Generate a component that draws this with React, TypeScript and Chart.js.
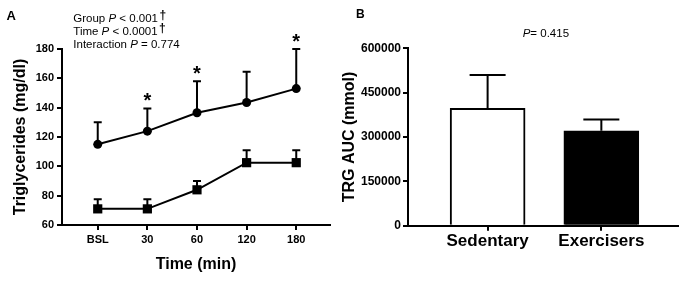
import React, { useEffect, useRef } from "react";
import { Chart, registerables } from "chart.js";

Chart.register(...registerables);

// ---------- data ----------
const timeLabels = ["BSL", "30", "60", "120", "180"];
const sedentaryMean = [115, 124, 136.5, 143.5, 153];
const sedentaryUpper = [130, 139.5, 158, 164.5, 180];
const exerciserMean = [71, 71, 84, 102.5, 102.5];
const exerciserUpper = [77.5, 77.5, 90, 111, 111];
const significantTimes = [false, true, true, false, true];

const statNames = ["Group", "Time", "Interaction"];
const statOps = ["<", "<", "="];
const statValues = ["0.001", "0.0001", "0.774"];
const statDaggers = [true, true, false];

const aucGroups = ["Sedentary", "Exercisers"];
const aucMean = [397000, 321000];
const aucUpper = [510000, 359000];
const aucStatOp = "=";
const aucStatValue = "0.415";

const yTicksA = [60, 180, 20];
const yTicksB = [0, 600000, 150000];

// ---------- style ----------
const FONT = '"Liberation Sans", Arial, Helvetica, sans-serif';
const BLACK = "#000000";

function errorBarPlugin(id: string, capWidth: number) {
  return {
    id,
    beforeDatasetsDraw(chart: any) {
      const ctx = chart.ctx;
      const yScale = chart.scales.y;
      ctx.save();
      ctx.strokeStyle = BLACK;
      ctx.lineWidth = 2;
      chart.data.datasets.forEach((ds: any, di: number) => {
        const meta = chart.getDatasetMeta(di);
        (ds.errUpper || []).forEach((up: number, i: number) => {
          const el = meta.data[i];
          if (!el) return;
          const x = el.x;
          const y0 = el.y;
          const y1 = yScale.getPixelForValue(up);
          ctx.beginPath();
          ctx.moveTo(x, y0);
          ctx.lineTo(x, y1);
          ctx.moveTo(x - capWidth / 2, y1);
          ctx.lineTo(x + capWidth / 2, y1);
          ctx.stroke();
        });
      });
      ctx.restore();
    },
  };
}

function drawParts(ctx: any, x: number, y: number, parts: { t: string; i?: boolean }[], size: number) {
  let cx = x;
  parts.forEach((p) => {
    ctx.font = `${p.i ? "italic " : ""}${size}px ${FONT}`;
    ctx.fillText(p.t, cx, y);
    cx += ctx.measureText(p.t).width;
  });
  return cx;
}

const annotA = {
  id: "annotA",
  afterDraw(chart: any) {
    const ctx = chart.ctx;
    const yScale = chart.scales.y;
    ctx.save();
    ctx.fillStyle = BLACK;
    ctx.textBaseline = "alphabetic";
    ctx.textAlign = "left";
    // panel letter
    ctx.font = `bold 13px ${FONT}`;
    ctx.fillText("A", 6.5, 19.5);
    // statistics
    statNames.forEach((name, k) => {
      const base = 22.3 + k * 12.7;
      const end = drawParts(
        ctx,
        73.3,
        base,
        [{ t: name + " " }, { t: "P", i: true }, { t: " " + statOps[k] + " " + statValues[k] }],
        11.5
      );
      if (statDaggers[k]) {
        ctx.font = `bold 12px ${FONT}`;
        ctx.fillText("\u2020", end + 1.5, base - 3.5);
      }
    });
    // significance asterisks
    const meta = chart.getDatasetMeta(0);
    ctx.font = `bold 20px ${FONT}`;
    ctx.textAlign = "center";
    const m = ctx.measureText("*");
    const asc = m.actualBoundingBoxAscent;
    const desc = m.actualBoundingBoxDescent;
    significantTimes.forEach((s, i) => {
      if (!s) return;
      const el = meta.data[i];
      const capY = yScale.getPixelForValue(sedentaryUpper[i]);
      const center = capY - 11.5;
      const baseline = center + (asc - desc) / 2;
      ctx.fillText("*", el.x, baseline);
    });
    ctx.restore();
  },
};

const annotB = {
  id: "annotB",
  afterDraw(chart: any) {
    const ctx = chart.ctx;
    ctx.save();
    ctx.fillStyle = BLACK;
    ctx.textBaseline = "alphabetic";
    ctx.textAlign = "left";
    ctx.font = `bold 12px ${FONT}`;
    ctx.fillText("B", 16, 17.5);
    drawParts(ctx, 182.7, 36.7, [{ t: "P", i: true }, { t: aucStatOp + " " + aucStatValue }], 11.5);
    ctx.restore();
  },
};

function ChartA() {
  const ref = useRef<HTMLCanvasElement>(null);
  useEffect(() => {
    const chart = new Chart(ref.current as HTMLCanvasElement, {
      type: "line",
      data: {
        datasets: [
          {
            data: sedentaryMean.map((y, i) => ({ x: i, y })),
            borderColor: BLACK,
            borderWidth: 2,
            pointStyle: "circle",
            pointRadius: 4.5,
            pointBackgroundColor: BLACK,
            pointBorderColor: BLACK,
            pointBorderWidth: 0,
            tension: 0,
            errUpper: sedentaryUpper,
          } as any,
          {
            data: exerciserMean.map((y, i) => ({ x: i, y })),
            borderColor: BLACK,
            borderWidth: 2,
            pointStyle: "rect",
            pointRadius: 6.5,
            pointBackgroundColor: BLACK,
            pointBorderColor: BLACK,
            pointBorderWidth: 0,
            tension: 0,
            errUpper: exerciserUpper,
          } as any,
        ],
      },
      options: {
        animation: false,
        responsive: false,
        maintainAspectRatio: false,
        layout: { padding: { left: 0, top: 49, right: 10, bottom: 0 } },
        plugins: { legend: { display: false }, tooltip: { enabled: false } },
        scales: {
          x: {
            type: "linear",
            min: -0.72,
            max: 4.68,
            afterBuildTicks: (s: any) => {
              s.ticks = timeLabels.map((_, i) => ({ value: i }));
            },
            afterFit: (s: any) => {
              s.height = 56;
            },
            ticks: {
              callback: (v: any) => timeLabels[v] ?? "",
              color: BLACK,
              font: { family: FONT, size: 11, weight: "bold" },
              padding: 3,
              maxRotation: 0,
              autoSkip: false,
            },
            grid: { drawOnChartArea: false, offset: false, tickLength: 5, color: BLACK, lineWidth: 2 },
            border: { color: BLACK, width: 2 },
            title: {
              display: true,
              text: "Time (min)",
              color: BLACK,
              font: { family: FONT, size: 16, weight: "bold" },
              padding: { top: 0, bottom: 7 },
            },
          },
          y: {
            min: yTicksA[0],
            max: yTicksA[1],
            afterFit: (s: any) => {
              s.width = 62;
            },
            ticks: {
              stepSize: yTicksA[2],
              color: BLACK,
              font: { family: FONT, size: 11, weight: "bold" },
              padding: 3,
              callback: (v: any) => String(v),
            },
            grid: { drawOnChartArea: false, tickLength: 5, color: BLACK, lineWidth: 2 },
            border: { color: BLACK, width: 2 },
            title: {
              display: true,
              text: "Triglycerides (mg/dl)",
              color: BLACK,
              font: { family: FONT, size: 16, weight: "bold" },
              padding: { top: 11, bottom: 0 },
            },
          },
        },
      } as any,
      plugins: [errorBarPlugin("errA", 8), annotA],
    });
    return () => chart.destroy();
  }, []);
  return <canvas ref={ref} width={340} height={281} style={{ display: "block", width: 340, height: 281 }} />;
}

function ChartB() {
  const ref = useRef<HTMLCanvasElement>(null);
  useEffect(() => {
    const chart = new Chart(ref.current as HTMLCanvasElement, {
      type: "bar",
      data: {
        datasets: [
          {
            data: aucMean.map((y, i) => ({ x: i, y })),
            backgroundColor: ["#ffffff", BLACK],
            borderColor: BLACK,
            borderWidth: 2,
            borderSkipped: "start",
            barThickness: 75,
            errUpper: aucUpper,
          } as any,
        ],
      },
      options: {
        animation: false,
        responsive: false,
        maintainAspectRatio: false,
        layout: { padding: { left: 0, top: 48.3, right: 2, bottom: 0 } },
        plugins: { legend: { display: false }, tooltip: { enabled: false } },
        scales: {
          x: {
            type: "linear",
            offset: false,
            min: -0.7,
            max: 1.674,
            afterBuildTicks: (s: any) => {
              s.ticks = aucGroups.map((_, i) => ({ value: i }));
            },
            afterFit: (s: any) => {
              s.height = 55.3;
            },
            ticks: {
              callback: (v: any) => aucGroups[v] ?? "",
              color: BLACK,
              font: { family: FONT, size: 17, weight: "bold" },
              padding: 0,
              maxRotation: 0,
              autoSkip: false,
            },
            grid: { drawOnChartArea: false, offset: false, tickLength: 5, color: BLACK, lineWidth: 2 },
            border: { color: BLACK, width: 2 },
          },
          y: {
            min: yTicksB[0],
            max: yTicksB[1],
            afterFit: (s: any) => {
              s.width = 68;
            },
            ticks: {
              stepSize: yTicksB[2],
              color: BLACK,
              font: { family: FONT, size: 12, weight: "bold" },
              padding: 2,
              callback: (v: any) => String(v),
            },
            grid: { drawOnChartArea: false, tickLength: 5, color: BLACK, lineWidth: 2 },
            border: { color: BLACK, width: 2 },
            title: {
              display: true,
              text: "TRG AUC (mmol)",
              color: BLACK,
              font: { family: FONT, size: 16, weight: "bold" },
              padding: { top: 0, bottom: 0 },
            },
          },
        },
      } as any,
      plugins: [errorBarPlugin("errB", 36), annotB],
    });
    return () => chart.destroy();
  }, []);
  return <canvas ref={ref} width={340} height={281} style={{ display: "block", width: 340, height: 281 }} />;
}

export default function App() {
  return (
    <div
      style={{
        position: "absolute",
        left: 0,
        top: 0,
        width: 680,
        height: 281,
        background: "#ffffff",
        display: "flex",
        flexDirection: "row",
      }}
    >
      <ChartA />
      <ChartB />
    </div>
  );
}
